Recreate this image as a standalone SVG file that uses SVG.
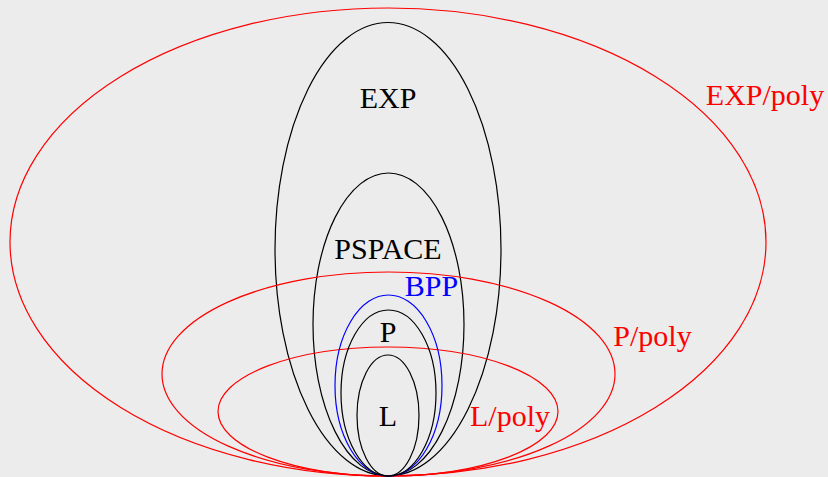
<svg xmlns="http://www.w3.org/2000/svg" width="828" height="477" viewBox="0 0 828 477">
<style>
.e{fill:none;stroke-width:1.2}
.k{stroke:#000}
.r{stroke:#ff0000}
.b{stroke:#0000ff}
text{font-family:"Liberation Serif","DejaVu Serif",serif;font-size:30px;text-anchor:middle}
.tk{fill:#000}
.tr{fill:#ff0000}
.tb{fill:#0000ff}
</style>
<rect width="828" height="477" fill="#ececec"/>
<g id="exppoly"><ellipse class="e r" cx="388" cy="242" rx="378" ry="234"/><text class="tr" x="765" y="105">EXP/poly</text></g>
<g id="exp"><ellipse class="e k" cx="388" cy="249.25" rx="113" ry="226.75"/><text class="tk" x="388" y="108">EXP</text></g>
<g id="pspace"><ellipse class="e k" cx="388.5" cy="324.5" rx="75.5" ry="151.5"/><text class="tk" x="388" y="259">PSPACE</text></g>
<g id="ppoly"><ellipse class="e r" cx="388.5" cy="374" rx="226.5" ry="102"/><text class="tr" x="652.5" y="346">P/poly</text></g>
<g id="lpoly"><ellipse class="e r" cx="388" cy="411.5" rx="170" ry="64.5"/><text class="tr" x="510" y="426">L/poly</text></g>
<g id="bpp"><ellipse class="e b" cx="388.5" cy="385.5" rx="53.5" ry="90.5"/><text class="tb" x="431.5" y="296">BPP</text></g>
<g id="p"><ellipse class="e k" cx="388.5" cy="393" rx="47.5" ry="83"/><text class="tk" x="388" y="342">P</text></g>
<g id="l"><ellipse class="e k" cx="388" cy="415.5" rx="31" ry="60.5"/><text class="tk" x="388" y="426">L</text></g>
<g id="connectors"></g>
</svg>
